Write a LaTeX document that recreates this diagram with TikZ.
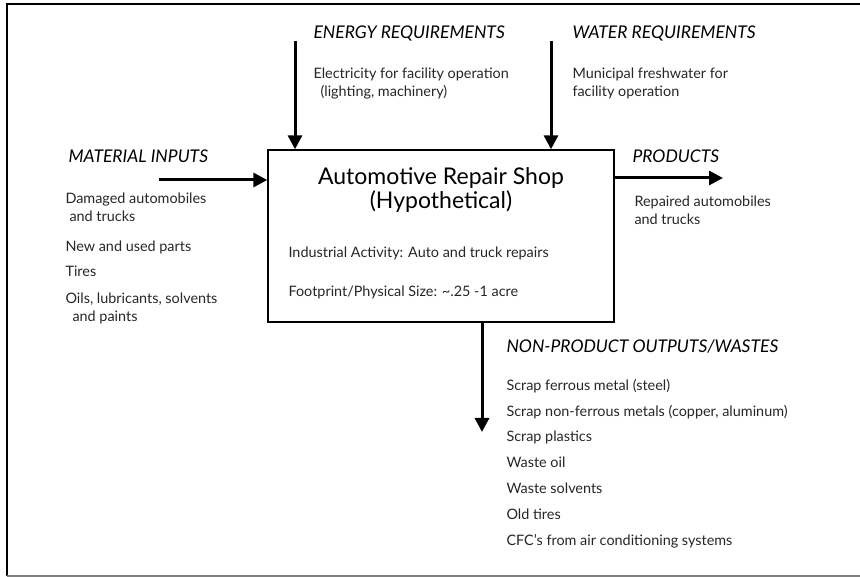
\documentclass[tikz,border=0pt]{standalone}
\usepackage{fontspec}
\setmainfont{Lato}
\usetikzlibrary{arrows.meta,positioning}
\tikzset{
  flow/.style={line width=3pt,-{Triangle[length=14pt,width=14pt]}},
  head/.style={anchor=base west,font=\fontsize{17.5}{20}\selectfont\itshape},
  item/.style={anchor=base west,align=left,text=black!85,font=\fontsize{14.4}{18.5}\selectfont},
  shopbox/.style={draw,line width=1.4pt,minimum width=346pt,minimum height=172pt,inner sep=0pt},
}
\begin{document}
\begin{tikzpicture}[x=1pt,y=-1pt]
  \useasboundingbox (0,0) rectangle (860,577);
  \draw[line width=2pt] (7,576) -- (7,4) -- (861,4);
  \draw[gray,line width=1.5pt] (7,576) -- (861,576);

  \node[shopbox] (shop) at (441,236) {};
  \node[anchor=base,align=center,font=\fontsize{23}{24.5}\selectfont] (title) at (441,209)
    {Automotive Repair Shop\\(Hypothetical)};
  \node[item] (activity) at (285,258) {Industrial Activity: Auto and truck repairs};
  \node[item] (size) at (285,297) {Footprint/Physical Size: \textasciitilde.25 -1 acre};

  \node[head] (energy) at (310,39) {ENERGY REQUIREMENTS};
  \node[item] (energy list) at (310,97) {Electricity for facility operation\\\hspace*{7pt}(lighting, machinery)};
  \node[head] (water) at (569,39) {WATER REQUIREMENTS};
  \node[item] (water list) at (569,97) {Municipal freshwater for\\facility operation};

  \node[head] (material) at (65,163) {MATERIAL INPUTS};
  \node[item] (damaged) at (62,222) {Damaged automobiles\\\hspace*{4pt}and trucks};
  \node[item] (parts) at (62,252) {New and used parts};
  \node[item] (tires) at (62,277) {Tires};
  \node[item] (oils) at (62,322) {Oils, lubricants, solvents\\\hspace*{7pt}and paints};

  \node[head] (products) at (629,163) {PRODUCTS};
  \node[item] (products list) at (631,225) {Repaired automobiles\\and trucks};

  \node[head] (wastes) at (503,353) {NON-PRODUCT OUTPUTS/WASTES};
  \foreach \w [count=\i] in {Scrap ferrous metal (steel),
      {Scrap non-ferrous metals (copper, aluminum)},Scrap plastics,Waste oil,
      Waste solvents,Old tires,CFC's from air conditioning systems}
    \node[item] (waste\i) at (503,{364.5+25.8*\i}) {\w};

  \coordinate (energy in) at (295,41);
  \coordinate (water in) at (551,41);
  \coordinate (material in) at (159,180);
  \coordinate (products out) at (723,178);
  \coordinate (wastes out) at (482,432);
  \draw[flow] (energy in) -- (energy in |- shop.north);
  \draw[flow] (water in) -- (water in |- shop.north);
  \draw[flow] (material in) -- (material in -| shop.west);
  \draw[flow] (products out -| shop.east) -- (products out);
  \draw[flow] (wastes out |- shop.south) -- (wastes out);
\end{tikzpicture}
\end{document}
